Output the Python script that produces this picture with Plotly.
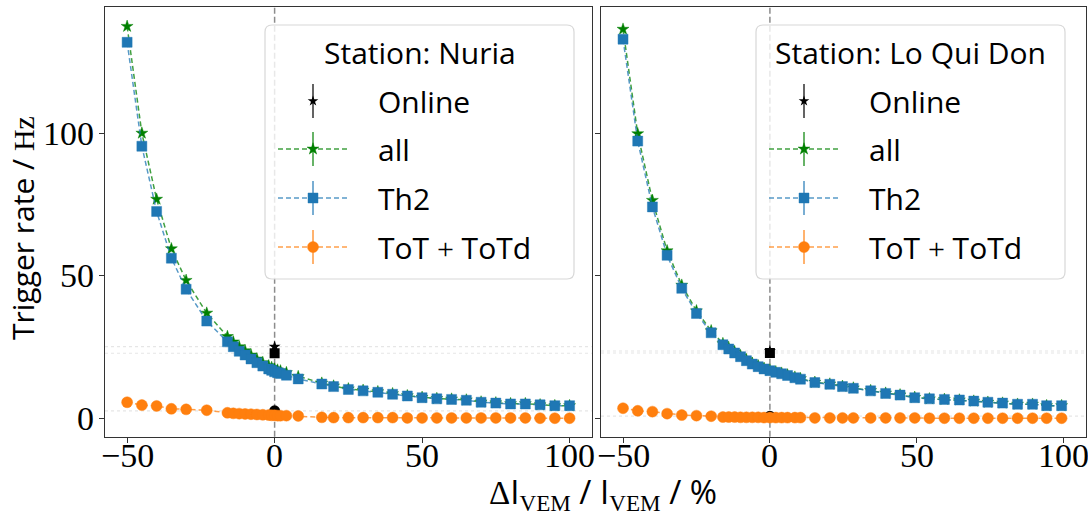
import plotly.graph_objects as go

W, H = 1088, 515
SANS = "Open Sans"
SERIF = "Liberation Serif"

# ---------------- Station: Nuria ----------------
nuria_x = [-50, -45, -40, -35, -30, -23,
           -16, -14, -12, -10, -8, -6, -4, -2, -1, 0, 1, 2, 4,
           8, 16, 20, 25, 30,
           35, 40, 45, 50, 55, 60, 65, 70, 75, 80, 85, 90, 95, 100]
nuria_all = [137.6, 100.1, 76.9, 59.5, 48.4, 36.9,
             28.7, 26.8, 25.1, 23.7, 22.2, 20.8, 19.5, 18.4, 17.8, 17.3, 16.9, 16.6, 16.0,
             14.6, 12.3, 11.3, 10.3, 9.8,
             9.3, 8.6, 7.9, 7.3, 6.9, 6.7, 6.4, 5.7, 5.4, 5.1, 5.1, 4.7, 4.4, 4.4]
nuria_th2 = [132.0, 95.5, 72.6, 56.2, 45.3, 34.1,
             26.8, 25.1, 23.5, 22.2, 20.8, 19.5, 18.3, 17.3, 16.8, 16.3, 16.0, 15.7, 15.1,
             13.8, 12.0, 11.1, 10.1, 9.6,
             9.1, 8.4, 7.8, 7.2, 6.8, 6.6, 6.3, 5.6, 5.3, 5.0, 5.0, 4.7, 4.4, 4.4]
nuria_tot = [5.6, 4.6, 4.3, 3.3, 3.1, 2.8,
             1.9, 1.7, 1.6, 1.5, 1.4, 1.3, 1.2, 1.1, 1.0, 1.0, 0.9, 0.9, 0.9,
             0.8, 0.3, 0.2, 0.2, 0.2,
             0.2, 0.2, 0.1, 0.1, 0.1, 0.1, 0.1, 0.1, 0.1, 0.1, 0.1, 0.0, 0.0, 0.0]
nuria_online = {"all": 25.1, "th2": 22.8, "tot": 2.6}

# ---------------- Station: Lo Qui Don ----------------
lqd_x = [-50, -45, -40, -35, -30, -25, -20,
         -16, -14, -12, -10, -8, -6, -4, -2, 0, 2, 4, 6,
         8.5, 10.4, 15.3, 20.4, 24.7, 28.4,
         34.3, 39.4, 44.3, 49.3, 54.3, 59.4, 64.5, 69.4, 74.2, 79.2, 84.3, 89.4, 94.2, 99.3]
lqd_all = [136.6, 99.9, 76.5, 58.8, 46.7, 37.7, 30.7,
           26.2, 24.7, 23.3, 21.9, 20.5, 19.3, 18.4, 17.5, 16.9, 16.3, 15.8, 15.2,
           14.4, 13.9, 12.6, 12.0, 11.2, 10.6,
           9.7, 8.8, 8.2, 7.3, 6.8, 6.6, 6.4, 6.0, 5.6, 5.3, 4.9, 4.9, 4.4, 4.4]
lqd_th2 = [133.1, 97.3, 74.2, 57.2, 45.6, 36.8, 30.0,
           25.8, 24.3, 22.9, 21.6, 20.2, 19.0, 18.1, 17.3, 16.7, 16.1, 15.6, 15.0,
           14.2, 13.7, 12.5, 11.9, 11.1, 10.5,
           9.6, 8.7, 8.1, 7.2, 6.8, 6.6, 6.4, 6.0, 5.6, 5.3, 4.9, 4.9, 4.4, 4.4]
lqd_tot = [3.5, 2.6, 2.3, 1.6, 1.1, 0.9, 0.7,
           0.4, 0.4, 0.4, 0.3, 0.3, 0.3, 0.3, 0.2, 0.2, 0.2, 0.2, 0.2,
           0.2, 0.2, 0.1, 0.1, 0.1, 0.1,
           0.1, 0.1, 0.1, 0.1, 0.0, 0.0, 0.0, 0.0, 0.0, 0.0, 0.0, 0.0, 0.0, 0.0]
lqd_online = {"all": 23.6, "th2": 22.9, "tot": 0.7}

ONLINE_X = 0
x_ticks = [-50, 0, 50, 100]
y_ticks = [0, 50, 100]

GREEN = "#008000"
BLUE = "#1f77b4"
ORANGE = "#ff7f0e"


def rgba(hex_colour, a):
    h = hex_colour.lstrip("#")
    r, g, b = int(h[0:2], 16), int(h[2:4], 16), int(h[4:6], 16)
    return f"rgba({r},{g},{b},{a})"


def tick_text(v):
    return str(v).replace("-", "\u2212")


SERIES_STYLE = {
    "all": dict(colour=GREEN, symbol="star", size=9),
    "th2": dict(colour=BLUE, symbol="square", size=10),
    "tot": dict(colour=ORANGE, symbol="circle", size=11),
}

fig = go.Figure()


def add_panel(xa, ya, x, series, online):
    # online reference values (black) at zero shift
    for key in ("all", "th2", "tot"):
        st = SERIES_STYLE[key]
        fig.add_trace(go.Scatter(
            x=[ONLINE_X], y=[online[key]], mode="markers",
            marker=dict(symbol=st["symbol"], size=st["size"], color="black"),
            xaxis=xa, yaxis=ya, hoverinfo="skip"))
    for key in ("all", "th2", "tot"):
        st = SERIES_STYLE[key]
        fig.add_trace(go.Scatter(
            x=x, y=series[key], mode="lines+markers",
            line=dict(color=rgba(st["colour"], 0.75), width=1.5, dash="5px,3px"),
            marker=dict(symbol=st["symbol"], size=st["size"], color=st["colour"],
                        line=dict(width=1, color=rgba(st["colour"], 0.45))),
            xaxis=xa, yaxis=ya, hoverinfo="skip"))


add_panel("x", "y", nuria_x, {"all": nuria_all, "th2": nuria_th2, "tot": nuria_tot}, nuria_online)
add_panel("x2", "y2", lqd_x, {"all": lqd_all, "th2": lqd_th2, "tot": lqd_tot}, lqd_online)

shapes = []
for xr, yr, online in (("x", "y", nuria_online), ("x2", "y2", lqd_online)):
    shapes.append(dict(type="line", xref=xr, yref=f"{yr} domain", x0=ONLINE_X, x1=ONLINE_X, y0=0, y1=1,
                       line=dict(color="#8c8c8c", width=1.5, dash="6px,3px"), layer="below"))
    for key in ("all", "th2", "tot"):
        shapes.append(dict(type="line", xref=f"{xr} domain", yref=yr, x0=0, x1=1,
                           y0=online[key], y1=online[key],
                           line=dict(color="rgba(205,205,205,0.5)", width=1.2, dash="dot"), layer="below"))

annotations = []

# ---------------- legends drawn on a pixel-space overlay ----------------
LEG_ROWS = [
    ("Online", "black", "star", 8, False),
    ("all", GREEN, "star", 9, True),
    ("Th2", BLUE, "square", 10, True),
    (f"ToT <span style=\"font-family:{SERIF}\">+</span> ToTd", ORANGE, "circle", 11, True),
]
ROW_Y = [101, 149, 198, 247]
LEG_FONT = 30


def add_legend(bx, title):
    by, bw, bh, r = 25, 309, 254, 7
    path = (f"M{bx + r},{by} H{bx + bw - r} Q{bx + bw},{by} {bx + bw},{by + r} "
            f"V{by + bh - r} Q{bx + bw},{by + bh} {bx + bw - r},{by + bh} "
            f"H{bx + r} Q{bx},{by + bh} {bx},{by + bh - r} V{by + r} Q{bx},{by} {bx + r},{by} Z")
    shapes.append(dict(type="path", path=path, xref="x3", yref="y3",
                       fillcolor="rgba(255,255,255,0.8)",
                       line=dict(color="#d8d8d8", width=1.2), layer="below"))
    annotations.append(dict(text=title, x=bx + bw / 2, y=52, xref="x3", yref="y3",
                            showarrow=False, xanchor="center", yanchor="middle",
                            font=dict(family=SANS, size=LEG_FONT, color="black")))
    for (label, colour, symbol, size, with_line), ry in zip(LEG_ROWS, ROW_Y):
        mx = bx + 48
        lc = "rgba(40,40,40,0.9)" if colour == "black" else rgba(colour, 0.75)
        if with_line:
            fig.add_trace(go.Scatter(x=[bx + 13, bx + 83], y=[ry, ry], mode="lines",
                                     line=dict(color=lc, width=1.5, dash="5px,3px"),
                                     xaxis="x3", yaxis="y3", hoverinfo="skip"))
        fig.add_trace(go.Scatter(x=[mx, mx], y=[ry - 17, ry + 17], mode="lines",
                                 line=dict(color=lc, width=1.6),
                                 xaxis="x3", yaxis="y3", hoverinfo="skip"))
        fig.add_trace(go.Scatter(x=[mx], y=[ry], mode="markers",
                                 marker=dict(symbol=symbol, size=size, color=colour,
                                             line=dict(width=1 if colour != "black" else 0,
                                                       color=rgba(colour, 0.45) if colour != "black" else "black")),
                                 xaxis="x3", yaxis="y3", hoverinfo="skip"))
        annotations.append(dict(text=label, x=bx + 111, y=ry, xref="x3", yref="y3",
                                showarrow=False, xanchor="left", yanchor="middle",
                                font=dict(family=SANS, size=LEG_FONT, color="black")))


add_legend(265, "Station: Nuria")
add_legend(756, "Station: Lo Qui Don")

# tick labels (placed as text so their offset from the frame can be set exactly)
TICK_FONT = dict(family=SERIF, size=34, color="black")
for xr in ("x", "x2"):
    for v in x_ticks:
        annotations.append(dict(text=tick_text(v), x=v, y=1 - 455 / H, xref=xr, yref="paper",
                                showarrow=False, xanchor="center", yanchor="middle", font=TICK_FONT))
for v in y_ticks:
    annotations.append(dict(text=tick_text(v), x=96 / W, y=v, xref="paper", yref="y",
                            showarrow=False, xanchor="right", yanchor="middle", font=TICK_FONT))

# axis titles
annotations.append(dict(
    text=f"Trigger rate / <span style=\"font-family:{SERIF}\">Hz</span>",
    x=22 / W, y=1 - 228 / H, xref="paper", yref="paper", textangle=-90,
    showarrow=False, xanchor="center", yanchor="middle",
    font=dict(family=SANS, size=30, color="black")))
annotations.append(dict(
    text=(f"<span style=\"font-family:{SERIF}\">Δ</span>I<sub><span style=\"font-family:{SERIF}\">VEM</span></sub>"
          f" / I<sub><span style=\"font-family:{SERIF}\">VEM</span></sub> / %"),
    x=603 / W, y=1 - 492 / H, xref="paper", yref="paper",
    showarrow=False, xanchor="center", yanchor="middle",
    font=dict(family=SANS, size=33, color="black")))

FRAME = "#333333"
common_x = dict(range=[-57.5, 107.5], tickvals=x_ticks, ticks="outside", ticklen=5, tickwidth=1.2,
                tickcolor=FRAME, showline=True, linecolor=FRAME, linewidth=1.2, mirror=True,
                showgrid=False, zeroline=False, showticklabels=False, fixedrange=True)
common_y = dict(range=[-6.5, 144.5], tickvals=y_ticks, ticks="outside", ticklen=5, tickwidth=1.2,
                tickcolor=FRAME, showline=True, linecolor=FRAME, linewidth=1.2, mirror=True,
                showgrid=False, zeroline=False, showticklabels=False, fixedrange=True)

ydom = [1 - 436.7 / H, 1 - 6.7 / H]
fig.update_layout(
    width=W, height=H,
    margin=dict(l=0, r=0, t=0, b=0),
    paper_bgcolor="white", plot_bgcolor="rgba(0,0,0,0)",
    showlegend=False,
    xaxis=dict(domain=[105 / W, 591.7 / W], anchor="y", **common_x),
    yaxis=dict(domain=ydom, anchor="x", **common_y),
    xaxis2=dict(domain=[601 / W, 1085.7 / W], anchor="y2", **common_x),
    yaxis2=dict(domain=ydom, anchor="x2", **common_y),
    xaxis3=dict(domain=[0, 1], anchor="y3", range=[0, W], visible=False, fixedrange=True),
    yaxis3=dict(domain=[0, 1], anchor="x3", range=[H, 0], visible=False, fixedrange=True),
    shapes=shapes,
    annotations=annotations,
)

fig.write_html("out.html")
